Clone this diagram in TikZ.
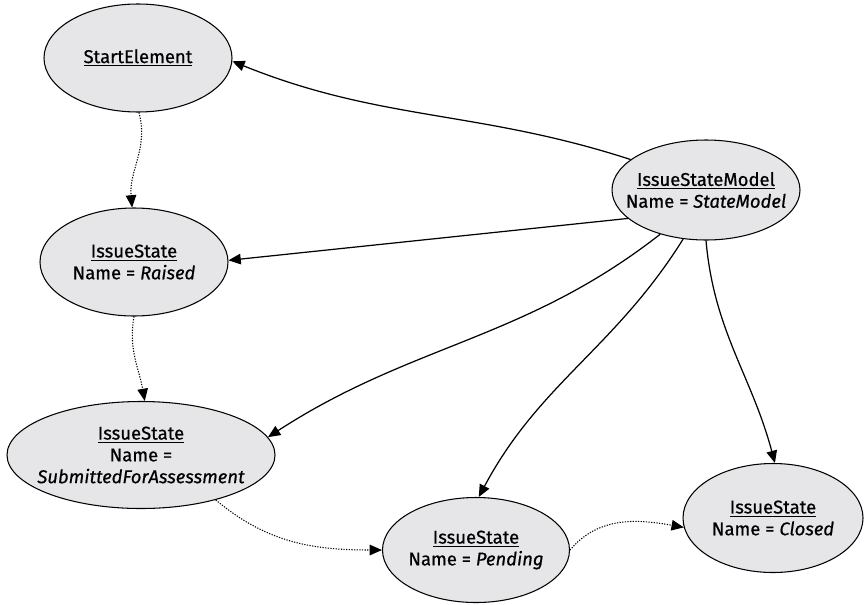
\documentclass[tikz,border=0pt]{standalone}
\usepackage{fontspec}
\setmainfont{Fira Sans}[UprightFeatures={FakeBold=0.6}, ItalicFeatures={FakeBold=0.6}]
\usetikzlibrary{arrows.meta, shapes.geometric}
\definecolor{stategray}{RGB}{230,230,232}

\begin{document}
\begin{tikzpicture}[
    state/.style={ellipse, draw, line width=0.6pt, fill=stategray, inner xsep=-15pt, inner ysep=0pt, align=center,
                  font=\fontsize{10.5}{12.4}\selectfont},
    assoc/.style={line width=0.7pt, -{Triangle[length=7pt,width=6pt]}},
    flow/.style={line width=0.6pt, dash pattern=on 0.7pt off 0.8pt, -{Triangle[length=7pt,width=6pt]}}
  ]
            \useasboundingbox (0,0) rectangle (17.3,12.08);
            \node[state, minimum width=3.76cm, minimum height=2.16cm] (start) at (2.76,10.92) {\underline{StartElement}};
            \node[state, minimum width=3.76cm, minimum height=2.0cm] (model) at (14.12,8.28) {\underline{IssueStateModel}\\Name = \textit{StateModel}};
            \node[state, minimum width=3.76cm, minimum height=2.16cm] (raised) at (2.68,6.84) {\underline{IssueState}\\Name = \textit{Raised}};
            \node[state, minimum width=5.36cm, minimum height=2.14cm] (submitted) at (2.82,2.98) {\underline{IssueState}\\Name =\\\textit{SubmittedForAssessment}};
            \node[state, minimum width=3.74cm, minimum height=2.1cm] (pending) at (9.52,1.08) {\underline{IssueState}\\Name = \textit{Pending}};
            \node[state, minimum width=3.6cm, minimum height=2.18cm] (closed) at (15.46,1.72) {\underline{IssueState}\\Name = \textit{Closed}};
            \draw[assoc] (model.158) to[out=162,in=-22] (start.-2);
            \draw[assoc] (model.200) -- (raised.1);
            \draw[assoc] (model.224) to[out=218,in=33] (submitted.8);
            \draw[assoc] (model.245) to[out=238,in=62] (pending.87);
            \draw[assoc] (model.270) to[out=-85,in=105] (closed.88);
            \draw[flow] (start.-89) to[out=-75,in=95] (raised.92);
            \draw[flow] (raised.-90) to[out=-100,in=100] (submitted.86);
            \draw[flow] (submitted.-31) to[out=-40,in=180] (pending.180);
            \draw[flow] (pending.0) to[out=50,in=170] (closed.186);
        \end{tikzpicture}
\end{document}
